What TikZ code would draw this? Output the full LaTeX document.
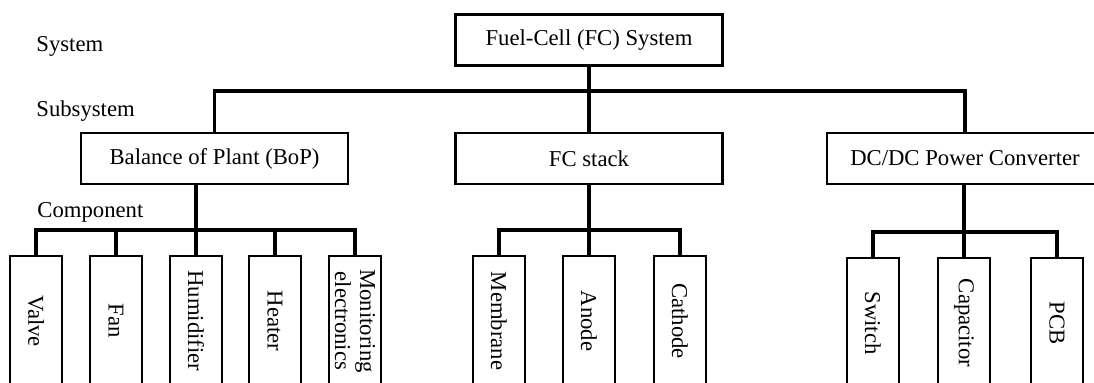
\documentclass[tikz,border=0pt]{standalone}
\usepackage{fontspec}
\setmainfont{Liberation Serif}
\usetikzlibrary{positioning}
\newcommand{\fcfont}{\fontsize{11.35}{12.5}\selectfont}
\tikzset{
  levelbox/.style={draw, line width=1.4pt, minimum width=133.5pt, minimum height=25.5pt,
                   inner sep=0pt, font=\fcfont},
  partbox/.style={draw, line width=1.3pt, rotate=-90, minimum width=65pt, minimum height=26pt,
                  inner sep=1pt, font=\fcfont},
  levellabel/.style={anchor=base west, inner sep=0pt, font=\fcfont},
  bus/.style={line width=1.8pt}
}

\begin{document}
\begin{tikzpicture}[x=0.5pt, y=-0.5pt]
\clip (0,0) rectangle (1094,383);
\node[levellabel] (lsys) at (36,52) {System};
\node[levellabel] (lsub) at (36,117) {Subsystem};
\node[levellabel] (lcomp) at (37,218) {Component};

\node[levelbox] (sys) at (589,40) {Fuel-Cell (FC) System};
\node[levelbox] (bop) at (214.5,158.5) {Balance of Plant (BoP)};
\node[levelbox] (stack) at (589,158.5) {FC stack};
\node[levelbox, minimum width=138pt] (dcdc) at (965,158.5) {DC/DC Power Converter};

\foreach \name/\px/\txt in {valve/36/Valve, fan/116/Fan, humid/196/Humidifier, heater/275/Heater,
                            membrane/499/Membrane, anode/589/Anode, cathode/680/Cathode}
  \node[partbox] (\name) at (\px,321) {\txt};
\node[partbox, align=center] (monitor) at (355,321) {Monitoring\\electronics};
\foreach \name/\px/\txt in {switch/873/Switch, capac/964/Capacitor, pcb/1057/PCB}
  \node[partbox] (\name) at (\px,323) {\txt};

\coordinate (sysbus) at (589,91);
\draw[bus] (sys.south) -- (sysbus);
\draw[bus] (bop.north) |- (sysbus) -| (dcdc.north);
\draw[bus] (sysbus) -- (stack.north);

\coordinate (bopbus) at (196,230);
\draw[bus] (bop.south -| bopbus) -- (bopbus);
\draw[bus] (valve.west) |- (bopbus) -| (monitor.west);
\foreach \name in {fan, humid, heater}
  \draw[bus] (\name.west) -- (\name.west |- bopbus);

\coordinate (stackbus) at (589,230);
\draw[bus] (stack.south) -- (stackbus);
\draw[bus] (membrane.west) |- (stackbus) -| (cathode.west);
\draw[bus] (stackbus) -- (anode.west);

\coordinate (dcbus) at (964,232);
\draw[bus] (dcdc.south -| dcbus) -- (dcbus);
\draw[bus] (switch.west) |- (dcbus) -| (pcb.west);
\draw[bus] (dcbus) -- (capac.west);
\end{tikzpicture}
\end{document}
